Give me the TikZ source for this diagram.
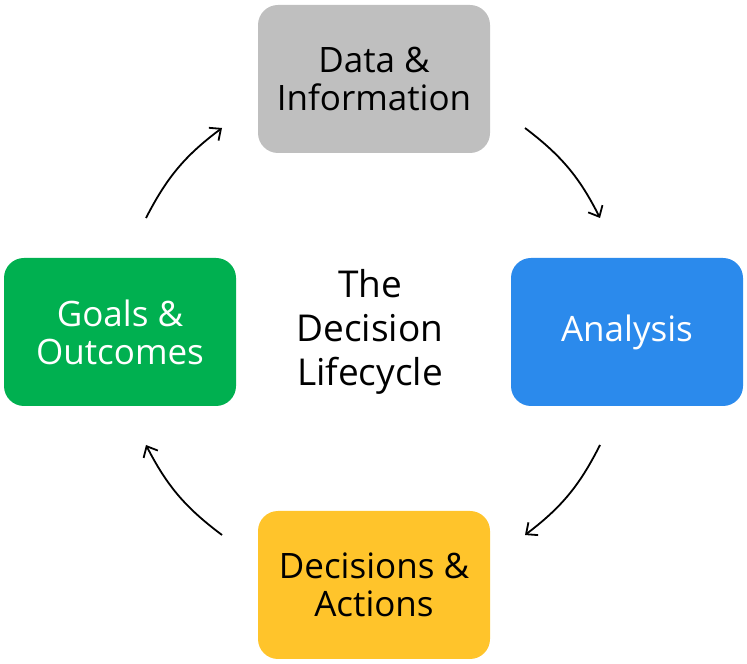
\documentclass[tikz,border=0pt]{standalone}
\usepackage{fontspec}
\setmainfont{Open Sans}
\usepackage{tikz}
\usetikzlibrary{arrows.meta, positioning}

\definecolor{boxgray}{RGB}{191,191,191}
\definecolor{boxblue}{RGB}{43,138,236}
\definecolor{boxyellow}{RGB}{255,196,43}
\definecolor{boxgreen}{RGB}{0,176,80}

\begin{document}
\begin{tikzpicture}[
    x=1pt, y=1pt,
    stage/.style={rectangle, rounded corners=20pt, minimum width=232pt, minimum height=148pt, align=center, font=\fontsize{35}{38}\selectfont, inner sep=0pt},
    arrow/.style={-{Straight Barb[length=9pt, width=16pt]}, line width=1.8pt, bend left=13}
]
    \useasboundingbox (0,0) rectangle (747,664);

    % Data
    \node[stage, fill=boxgray] (data) at (374,585) {Data \&\\Information};

    % Analysis
    \node[stage, fill=boxblue, text=white] (analysis) at (627,332) {Analysis};

    % Decisions
    \node[stage, fill=boxyellow] (decisions) at (374,79) {Decisions \&\\Actions};

    % Goals
    \node[stage, fill=boxgreen, text=white] (goals) at (120,332) {Goals \&\\Outcomes};

    % Center title
    \node[align=center, font=\fontsize{37}{44}\selectfont] (title) at (370,332) {The\\Decision\\Lifecycle};

    % Arrow ends
    \coordinate (a1s) at (525,536);
    \coordinate (a1e) at (600,446);
    \coordinate (a2s) at (600,219);
    \coordinate (a2e) at (525,129);
    \coordinate (a3s) at (222,129);
    \coordinate (a3e) at (146,219);
    \coordinate (a4s) at (146,446);
    \coordinate (a4e) at (222,536);

    % Arrows
    \draw[arrow] (a1s) to (a1e);
    \draw[arrow] (a2s) to (a2e);
    \draw[arrow] (a3s) to (a3e);
    \draw[arrow] (a4s) to (a4e);

\end{tikzpicture}
\end{document}
